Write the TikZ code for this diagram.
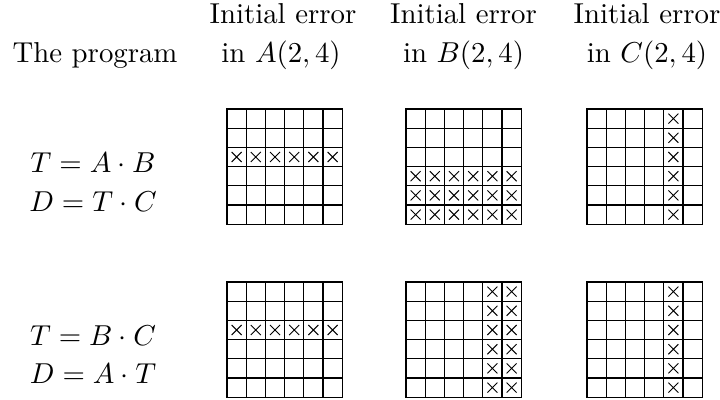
\documentclass[tikz,border=0pt]{standalone}
\begin{document}
\begin{tikzpicture}[x=0.3472pt,y=-0.3472pt,
  gridframe/.style={draw, line width=0.45pt, minimum size=40pt, inner sep=0pt, outer sep=0pt, anchor=north west},
  gridline/.style={line width=0.45pt},
  xmark/.style={line width=0.33pt},
  lbl/.style={inner sep=0pt, anchor=base}]
\useasboundingbox (0,0) rectangle (720,400);

% headers
\node[lbl] (h0) at (95,63) {The program};
\node[lbl] (h1a) at (283,24) {Initial error};
\node[lbl] (h1b) at (281,63) {in $A(2,4)$};
\node[lbl] (h2a) at (463.5,24) {Initial error};
\node[lbl] (h2b) at (463.5,63) {in $B(2,4)$};
\node[lbl] (h3a) at (647,24) {Initial error};
\node[lbl] (h3b) at (647,63) {in $C(2,4)$};

% programs
\node[lbl] (p1a) at (93,173) {$T = A\cdot B$};
\node[lbl] (p1b) at (93,212) {$D = T\cdot C$};
\node[lbl] (p2a) at (93,345) {$T = B\cdot C$};
\node[lbl] (p2b) at (93,383) {$D = A\cdot T$};

% grids
\node[gridframe] (g1) at (227,109) {};
\node[gridframe] (g2) at (406,109) {};
\node[gridframe] (g3) at (587,109) {};
\node[gridframe] (g4) at (227,282) {};
\node[gridframe] (g5) at (406,282) {};
\node[gridframe] (g6) at (587,282) {};

\foreach \g in {g1,g2,g3,g4,g5,g6}{
  \begin{scope}[shift={(\g.north west)}]
    \foreach \k in {1,...,5}{
      \draw[gridline] (\k*19.2,0) -- (\k*19.2,115.2);
      \draw[gridline] (0,\k*19.2) -- (115.2,\k*19.2);
    }
  \end{scope}
}

% error marks
\newcommand\xmk[3]{% grid, column, row
  \begin{scope}[shift={(#1.north west)}]
    \draw[xmark] (#2*19.2+4.6,#3*19.2+4.6) -- ++(10,10)
                 (#2*19.2+4.6,#3*19.2+14.6) -- ++(10,-10);
  \end{scope}}
\foreach \c in {0,...,5}{\xmk{g1}{\c}{2}}
\foreach \c in {0,...,5}{\foreach \r in {3,4,5}{\xmk{g2}{\c}{\r}}}
\foreach \r in {0,...,5}{\xmk{g3}{4}{\r}}
\foreach \c in {0,...,5}{\xmk{g4}{\c}{2}}
\foreach \r in {0,...,5}{\xmk{g5}{4}{\r}\xmk{g5}{5}{\r}}
\foreach \r in {0,...,5}{\xmk{g6}{4}{\r}}
\end{tikzpicture}
\end{document}
